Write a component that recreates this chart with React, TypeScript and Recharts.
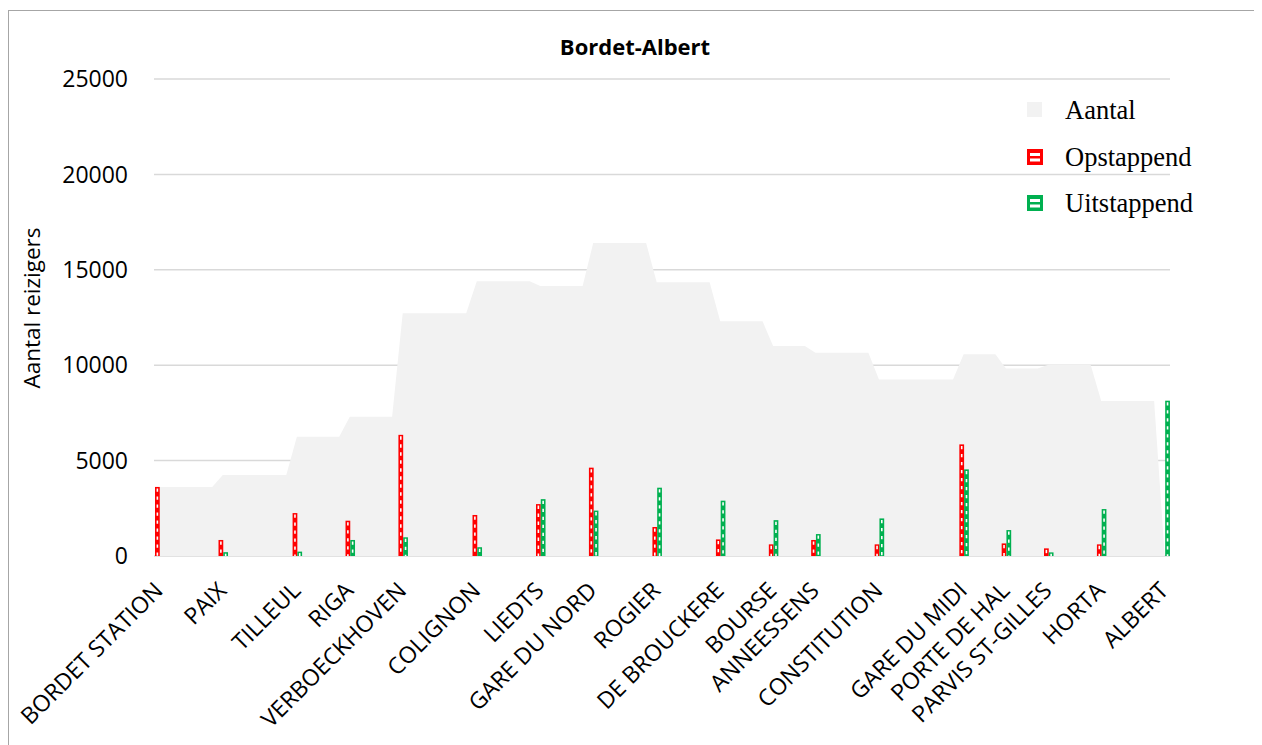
import React from 'react';
import { ComposedChart, Area, Bar, XAxis, YAxis, CartesianGrid, Legend } from 'recharts';

// stations along the line, positions in minutes from the start
const stations = [
  'BORDET STATION', 'PAIX', 'TILLEUL', 'RIGA', 'VERBOECKHOVEN', 'COLIGNON', 'LIEDTS',
  'GARE DU NORD', 'ROGIER', 'DE BROUCKERE', 'BOURSE', 'ANNEESSENS', 'CONSTITUTION',
  'GARE DU MIDI', 'PORTE DE HAL', 'PARVIS ST-GILLES', 'HORTA', 'ALBERT',
];
const positions = [0, 6, 13, 18, 23, 30, 36, 41, 47, 53, 58, 62, 68, 76, 80, 84, 89, 95];
const aantal = [3620, 4240, 6250, 7300, 12720, 14400, 14150, 16400, 14350, 12300, 11000, 10650, 9250, 10570, 9830, 10020, 8130, 0];
const opstappend = [3620, 840, 2250, 1850, 6350, 2150, 2720, 4630, 1520, 870, 610, 840, 610, 5850, 660, 400, 610, 0];
const uitstappend = [0, 200, 230, 840, 980, 460, 2980, 2380, 3580, 2900, 1880, 1150, 1970, 4540, 1360, 190, 2460, 8140];
const yTicks = [0, 5000, 10000, 15000, 20000, 25000];

const RED = '#ff0000';
const GREEN = '#00b050';
const AREA = '#f2f2f2';
const SANS = '"Open Sans", "Noto Sans", sans-serif';

// load holds until one minute before the next stop, then ramps
const data: any[] = [];
stations.forEach((name, i) => {
  data.push({ x: positions[i], name, aantal: aantal[i], op: opstappend[i], uit: uitstappend[i] });
  if (i < stations.length - 1) {
    data.push({ x: positions[i + 1] - 1, aantal: aantal[i] });
  }
});

const PatternBar = (props: any) => {
  const { x, y, width, height, fill } = props;
  if (!height || height <= 0 || isNaN(y)) return null;
  const cx = x + width / 2;
  return (
    <g>
      <rect x={x} y={y} width={width} height={height} fill={fill} />
      <line x1={cx} x2={cx} y1={y + 1.5} y2={y + height} stroke="#fff" strokeWidth={1.6} strokeDasharray="3.3 4.7" />
    </g>
  );
};

const StationTick = ({ x, y, payload }: any) => {
  const idx = positions.indexOf(payload.value);
  const tx = x + 5;
  const ty = y + 28;
  return (
    <text x={tx} y={ty} transform={`rotate(-45 ${tx} ${ty})`} textAnchor="end"
      fontSize={23} fontFamily={SANS} fill="#000">
      {stations[idx]}
    </text>
  );
};

const YLabel = () => (
  <text x={22} y={297} transform="rotate(-90 22 297)" textAnchor="middle" dominantBaseline="central"
    fontSize={22.5} fontFamily={SANS} fill="#000">
    Aantal reizigers
  </text>
);

const LegendIcon = ({ color }: { color: string }) => (
  <svg width={16} height={16} style={{ display: 'block' }}>
    <rect x={0} y={0} width={16} height={16} fill={color} />
    <rect x={3} y={4} width={10} height={3} fill="#fff" />
    <rect x={3} y={9.5} width={10} height={3} fill="#fff" />
  </svg>
);

const renderLegend = () => {
  const rows = [
    { label: 'Aantal', icon: <svg width={16} height={16} style={{ display: 'block' }}><rect x={0} y={0} width={15} height={15} fill={AREA} /></svg> },
    { label: 'Opstappend', icon: <LegendIcon color={RED} /> },
    { label: 'Uitstappend', icon: <LegendIcon color={GREEN} /> },
  ];
  return (
    <div>
      {rows.map((r) => (
        <div key={r.label} style={{ height: 46.5, display: 'flex', alignItems: 'center' }}>
          {r.icon}
          <span style={{ marginLeft: 22, fontFamily: '"Liberation Serif", serif', fontSize: 26.5, lineHeight: 1, color: '#000' }}>
            {r.label}
          </span>
        </div>
      ))}
    </div>
  );
};

export default function App() {
  return (
    <div style={{ position: 'relative', top: 2, width: 1254, height: 745, border: '1px solid #a6a6a6', boxSizing: 'border-box', background: '#fff' }}>
      <div style={{ position: 'absolute', left: 0, right: 0, top: 24, textAlign: 'center', fontFamily: SANS, fontWeight: 700, fontSize: 22, lineHeight: '22px', color: '#000', zIndex: 2 }}>
        Bordet-Albert
      </div>
      <ComposedChart width={1252} height={734} data={data} margin={{ top: 68, right: 91, bottom: 0, left: 0 }} barGap={0}>
        <CartesianGrid vertical={false} stroke="#d9d9d9" strokeWidth={1.5} />
        <XAxis type="number" dataKey="x" domain={[-0.5, 95.5]} allowDataOverflow ticks={positions} interval={0}
          axisLine={false} tickLine={false} height={189} tick={<StationTick />} />
        <YAxis domain={[0, 25000]} ticks={yTicks} axisLine={false} tickLine={false} width={145} tickMargin={20}
          tick={{ fontSize: 23, fontFamily: SANS, fill: '#000' }} label={<YLabel />} />
        <Area dataKey="aantal" type="linear" fill={AREA} fillOpacity={1} stroke="none" isAnimationActive={false} />
        <Bar dataKey="op" fill={RED} barSize={5.5} shape={<PatternBar />} isAnimationActive={false} />
        <Bar dataKey="uit" fill={GREEN} barSize={5.5} shape={<PatternBar />} isAnimationActive={false} />
        <Legend layout="vertical" align="center" verticalAlign="middle" content={renderLegend}
          wrapperStyle={{ left: 1018, top: 76, width: 'auto' }} />
      </ComposedChart>
    </div>
  );
}
